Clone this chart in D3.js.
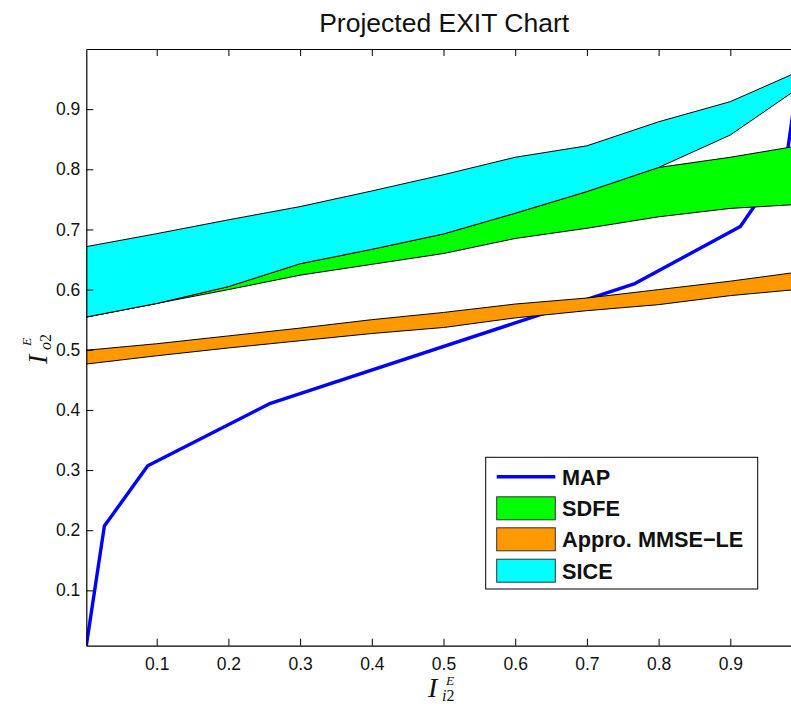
<!DOCTYPE html>
<html>
<head>
<meta charset="utf-8">
<script src="https://cdn.jsdelivr.net/npm/d3@7"></script>
<style>
  html, body { margin: 0; padding: 0; background: #fff; }
  svg { display: block; }
</style>
</head>
<body>
<svg id="chart" width="791" height="711"></svg>
<script>
// ---- Data -------------------------------------------------------------
// MAP detector transfer curve
const mapX = [0.0018, 0.027, 0.0875, 0.2586, 0.767, 0.914, 0.978, 1.0];
const mapY = [0.008, 0.207, 0.307, 0.411, 0.610, 0.705, 0.815, 1.0];

// Common abscissa of the projected bands
const bandX = [0, 0.1, 0.2, 0.3, 0.4, 0.5, 0.6, 0.7, 0.8, 0.9, 1.0];

// SDFE band (lower / upper bound)
const sdfeLow  = [0.554, 0.577, 0.600, 0.624, 0.642, 0.660, 0.685, 0.702, 0.721, 0.735, 0.742];
const sdfeHigh = [0.554, 0.577, 0.605, 0.643, 0.667, 0.6925, 0.727, 0.763, 0.803, 0.820, 0.840];

// Approximate MMSE-LE band
const mmseLow  = [0.476, 0.490, 0.503, 0.515, 0.527, 0.537, 0.553, 0.565, 0.575, 0.590, 0.601];
const mmseHigh = [0.499, 0.510, 0.523, 0.536, 0.550, 0.562, 0.576, 0.586, 0.600, 0.614, 0.630];

// SICE band
const siceLow  = [0.554, 0.577, 0.605, 0.643, 0.667, 0.6925, 0.727, 0.763, 0.803, 0.857, 0.939];
const siceHigh = [0.671, 0.693, 0.716, 0.738, 0.764, 0.791, 0.820, 0.839, 0.879, 0.9125, 0.965];

// Ticks
const xTicks = [0.1, 0.2, 0.3, 0.4, 0.5, 0.6, 0.7, 0.8, 0.9];
const xTickLabels = ["0.1", "0.2", "0.3", "0.4", "0.5", "0.6", "0.7", "0.8", "0.9"];
const yTicks = [0.1, 0.2, 0.3, 0.4, 0.5, 0.6, 0.7, 0.8, 0.9];
const yTickLabels = ["0.1", "0.2", "0.3", "0.4", "0.5", "0.6", "0.7", "0.8", "0.9"];

const legendNames = ["MAP", "SDFE", "Appro. MMSE\u2212LE", "SICE"];
const colors = { map: "#0000ff", sdfe: "#00ff00", mmse: "#ff9900", sice: "#00ffff" };

// ---- Layout -----------------------------------------------------------
const plot = { left: 86.3, right: 802, top: 49, bottom: 645.7 };
const svg = d3.select("#chart");

const x = d3.scaleLinear().domain([mapX[0], 1]).range([plot.left, plot.right]);
const y = d3.scaleLinear().domain([mapY[0], 1]).range([plot.bottom, plot.top]);

svg.append("defs").append("clipPath").attr("id", "plotClip")
  .append("rect")
  .attr("x", plot.left).attr("y", plot.top)
  .attr("width", plot.right - plot.left).attr("height", plot.bottom - plot.top);

const layer = svg.append("g").attr("clip-path", "url(#plotClip)");

// MAP curve (drawn first so the bands sit above it)
const mapPts = mapX.map((v, i) => [v, mapY[i]]);
layer.append("path")
  .datum(mapPts)
  .attr("d", d3.line().x(d => x(d[0])).y(d => y(d[1])))
  .attr("fill", "none")
  .attr("stroke", colors.map)
  .attr("stroke-width", 3.4)
  .attr("stroke-linejoin", "round");

function band(low, high, fill) {
  const pts = bandX.map((v, i) => ({ x: v, lo: low[i], hi: high[i] }));
  const area = d3.area().x(d => x(d.x)).y0(d => y(d.lo)).y1(d => y(d.hi));
  layer.append("path")
    .datum(pts)
    .attr("d", area)
    .attr("fill", fill)
    .attr("stroke", "#000")
    .attr("stroke-width", 1)
    .attr("stroke-linejoin", "round");
}
band(sdfeLow, sdfeHigh, colors.sdfe);
band(mmseLow, mmseHigh, colors.mmse);
band(siceLow, siceHigh, colors.sice);

// ---- Axes -------------------------------------------------------------
const fontSans = "'Liberation Sans', Arial, Helvetica, sans-serif";
const tickLen = 7;

function styleAxis(g) {
  g.selectAll("path.domain").attr("stroke", "#000").attr("stroke-width", 1.2);
  g.selectAll(".tick line").attr("stroke", "#000").attr("stroke-width", 1);
  g.selectAll("text").attr("fill", "#111").style("font-family", fontSans).style("font-size", "17.5px");
}

svg.append("g")
  .attr("transform", `translate(0,${plot.bottom})`)
  .call(d3.axisBottom(x).tickValues(xTicks).tickFormat((d, i) => xTickLabels[i])
    .tickSizeInner(-tickLen).tickSizeOuter(0).tickPadding(11.5))
  .call(styleAxis);

svg.append("g")
  .attr("transform", `translate(0,${plot.top})`)
  .call(d3.axisTop(x).tickValues(xTicks).tickFormat("")
    .tickSizeInner(-tickLen).tickSizeOuter(0))
  .call(styleAxis);

svg.append("g")
  .attr("transform", `translate(${plot.left},0)`)
  .call(d3.axisLeft(y).tickValues(yTicks).tickFormat((d, i) => yTickLabels[i])
    .tickSizeInner(-tickLen).tickSizeOuter(0).tickPadding(6))
  .call(styleAxis);

svg.append("g")
  .attr("transform", `translate(${plot.right},0)`)
  .call(d3.axisRight(y).tickValues(yTicks).tickFormat("")
    .tickSizeInner(-tickLen).tickSizeOuter(0))
  .call(styleAxis);

// ---- Title ------------------------------------------------------------
svg.append("text")
  .attr("x", (plot.left + plot.right) / 2)
  .attr("y", 32)
  .attr("text-anchor", "middle")
  .style("font-family", fontSans)
  .style("font-size", "26.5px")
  .attr("fill", "#111")
  .text("Projected EXIT Chart");

// ---- Axis labels (I with superscript E and a subscript) -----------------
const fontSerif = "'Liberation Serif', 'Times New Roman', 'DejaVu Serif', serif";
function mathLabel(g, subItalic, subDigit, supY) {
  g.append("text")
    .attr("x", 0).attr("y", 0)
    .style("font-family", fontSerif).style("font-style", "italic")
    .style("font-size", "28px").attr("fill", "#111")
    .text("I");
  g.append("text")
    .attr("x", 18).attr("y", supY)
    .style("font-family", fontSerif).style("font-style", "italic")
    .style("font-size", "13.5px").attr("fill", "#111")
    .text("E");
  const sub = g.append("text")
    .attr("x", 14).attr("y", 4)
    .style("font-family", fontSerif)
    .style("font-size", "16px").attr("fill", "#111");
  sub.append("tspan").style("font-style", "italic").text(subItalic);
  sub.append("tspan").style("font-style", "normal").text(subDigit);
}

mathLabel(svg.append("g").attr("transform", "translate(428,697)"), "i", "2", -12.5);
mathLabel(svg.append("g").attr("transform", "translate(47,364) rotate(-90)"), "o", "2", -16);

// ---- Legend -----------------------------------------------------------
const leg = svg.append("g");
leg.append("rect")
  .attr("x", 485.7).attr("y", 457.3).attr("width", 272).attr("height", 131.7)
  .attr("fill", "#fff").attr("stroke", "#000").attr("stroke-width", 1);

const rowY = [476.7, 508.3, 539.3, 570.7];
const swX0 = 496.7, swX1 = 555.3, swH = 23;
const swFill = [null, colors.sdfe, colors.mmse, colors.sice];

legendNames.forEach((name, i) => {
  if (i === 0) {
    leg.append("line")
      .attr("x1", swX0).attr("x2", swX1).attr("y1", rowY[i]).attr("y2", rowY[i])
      .attr("stroke", colors.map).attr("stroke-width", 3.4);
  } else {
    leg.append("rect")
      .attr("x", swX0).attr("y", rowY[i] - swH / 2)
      .attr("width", swX1 - swX0).attr("height", swH)
      .attr("fill", swFill[i]).attr("stroke", "#333").attr("stroke-width", 1);
  }
  leg.append("text")
    .attr("x", 562).attr("y", rowY[i])
    .attr("dy", "0.36em")
    .style("font-family", fontSans).style("font-weight", "bold")
    .style("font-size", "21.7px").attr("fill", "#111")
    .text(name);
});
</script>
</body>
</html>
